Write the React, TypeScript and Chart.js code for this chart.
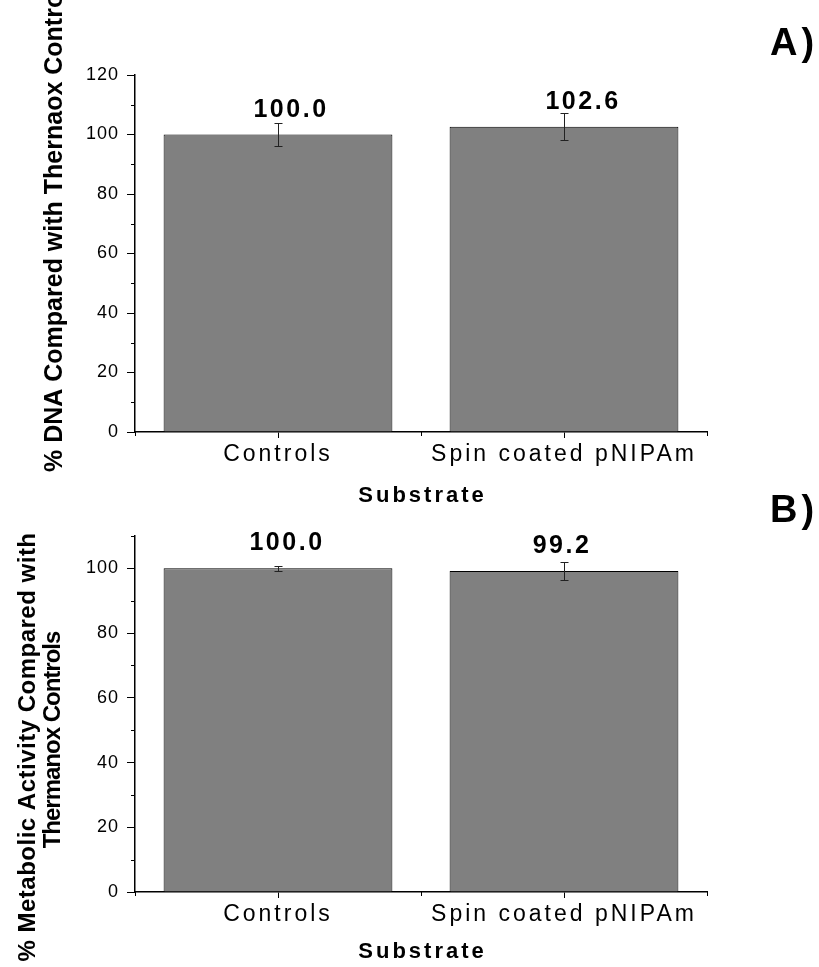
import React, { useEffect, useRef } from "react";
import { Chart, registerables } from "chart.js";

Chart.register(...registerables);

// ---------- data ----------
const categories = ["Controls", "Spin coated pNIPAm"];

const dnaValues = [100.0, 102.6];
const dnaErrors = [3.9, 4.5];
const dnaYMax = 120;

const metabolicValues = [100.0, 99.2];
const metabolicErrors = [0.7, 2.9];
const metabolicYMax = 110;

const yStep = 20;
const yMinorStep = 10;

const dnaYTitle = ["% DNA Compared with Thernaox Controls"];
const metabolicYTitle = ["% Metabolic Activity Compared with", "Thermanox Controls"];
const xTitle = "Substrate";
const panelLabels = ["A)", "B)"];

// ---------- styling ----------
const FONT = "'Liberation Sans', Arial, Helvetica, sans-serif";
const BAR_FILL = "#808080";

const annotatePlugin = {
  id: "annotate",
  beforeDraw(chart: any) {
    chart.ctx.letterSpacing = "1px";
  },
  afterDatasetsDraw(chart: any, _args: any, opts: any) {
    const ctx = chart.ctx;
    const meta = chart.getDatasetMeta(0);
    const y = chart.scales.y;
    ctx.save();
    ctx.strokeStyle = "#222";
    ctx.lineWidth = 1;
    meta.data.forEach((bar: any, i: number) => {
      const v = opts.values[i];
      const e = opts.errors[i];
      const x = Math.round(bar.x) + 0.5;
      const yt = Math.round(y.getPixelForValue(v + e)) + 0.5;
      const yb = Math.round(y.getPixelForValue(v - e)) + 0.5;
      ctx.beginPath();
      ctx.moveTo(x, yt);
      ctx.lineTo(x, yb);
      ctx.moveTo(x - 4, yt);
      ctx.lineTo(x + 4, yt);
      ctx.moveTo(x - 4, yb);
      ctx.lineTo(x + 4, yb);
      ctx.stroke();
    });
    ctx.restore();
    // spacing for x tick labels (drawn after datasets)
    ctx.letterSpacing = "3px";
  },
  afterDraw(chart: any, _args: any, opts: any) {
    const ctx = chart.ctx;
    const { left, right, bottom } = chart.chartArea;
    const y = chart.scales.y;
    const x = chart.scales.x;
    const meta = chart.getDatasetMeta(0);
    ctx.save();
    ctx.letterSpacing = "0px";
    ctx.strokeStyle = "#000";
    ctx.lineWidth = 1;
    // minor y ticks
    for (let v = yMinorStep; v <= y.max; v += yStep) {
      const py = Math.round(y.getPixelForValue(v)) + 0.5;
      ctx.beginPath();
      ctx.moveTo(left - 4, py);
      ctx.lineTo(left, py);
      ctx.stroke();
    }
    // minor x ticks at category boundaries
    const mid = (x.getPixelForValue(0) + x.getPixelForValue(1)) / 2;
    [left, mid, right].forEach((px) => {
      const xx = Math.round(px) + 0.5;
      ctx.beginPath();
      ctx.moveTo(xx, bottom);
      ctx.lineTo(xx, bottom + 4);
      ctx.stroke();
    });
    // value labels
    ctx.fillStyle = "#000";
    ctx.font = `bold 25px ${FONT}`;
    ctx.letterSpacing = "2.5px";
    ctx.textAlign = "center";
    ctx.textBaseline = "alphabetic";
    meta.data.forEach((bar: any, i: number) => {
      const v = opts.values[i];
      ctx.fillText(v.toFixed(1), bar.x + opts.labelDx[i], y.getPixelForValue(v) - 18);
    });
    // x title
    ctx.font = `bold 22px ${FONT}`;
    ctx.letterSpacing = "3px";
    ctx.fillText(xTitle, (left + right) / 2 + 1.5, opts.xTitleY);
    // panel label
    ctx.font = `bold 38px ${FONT}`;
    ctx.letterSpacing = "4px";
    ctx.textAlign = "left";
    ctx.fillText(opts.panel, 770, opts.panelY);
    // y title (rotated, baseline on the right side)
    ctx.textBaseline = "alphabetic";
    opts.yTitle.forEach((line: string, i: number) => {
      const t = opts.yTitlePos[i];
      ctx.save();
      ctx.font = `bold ${t.size}px ${FONT}`;
      ctx.letterSpacing = `${t.spacing}px`;
      ctx.translate(t.x, t.y);
      ctx.rotate(-Math.PI / 2);
      ctx.textAlign = t.align;
      ctx.fillText(line, 0, 0);
      ctx.restore();
    });
    ctx.restore();
    ctx.letterSpacing = "0px";
  },
};

function makeConfig(values: number[], errors: number[], yMax: number, pad: any, xHeight: number, annotate: any) {
  return {
    type: "bar" as const,
    data: {
      labels: categories,
      datasets: [
        {
          data: values,
          backgroundColor: BAR_FILL,
          borderColor: "#000",
          borderWidth: 1,
          barPercentage: 0.8,
          categoryPercentage: 1.0,
        },
      ],
    },
    options: {
      responsive: false,
      animation: false as const,
      events: [],
      layout: { padding: pad },
      plugins: {
        legend: { display: false },
        tooltip: { enabled: false },
        annotate: { values, errors, ...annotate },
      },
      scales: {
        x: {
          type: "category" as const,
          offset: true,
          grid: {
            offset: false,
            drawOnChartArea: false,
            drawTicks: true,
            tickLength: 6,
            color: "#000",
            lineWidth: 1,
          },
          border: { display: true, color: "#000", width: 1.5 },
          ticks: {
            color: "#000",
            padding: 3,
            z: 1,
            font: { family: FONT, size: 23 },
            maxRotation: 0,
            autoSkip: false,
          },
          afterFit: (s: any) => {
            s.height = xHeight;
          },
        },
        y: {
          min: 0,
          max: yMax,
          grid: {
            drawOnChartArea: false,
            drawTicks: true,
            tickLength: 8,
            color: "#000",
            lineWidth: 1,
          },
          border: { display: true, color: "#000", width: 1.5 },
          ticks: {
            stepSize: yStep,
            includeBounds: false,
            color: "#000",
            padding: 8,
            font: { family: FONT, size: 18 },
          },
          afterFit: (s: any) => {
            s.width = 135;
          },
        },
      },
    },
    plugins: [annotatePlugin],
  };
}

export default function App() {
  const ref1 = useRef<HTMLCanvasElement>(null);
  const ref2 = useRef<HTMLCanvasElement>(null);

  useEffect(() => {
    const c1 = new Chart(
      ref1.current as HTMLCanvasElement,
      makeConfig(dnaValues, dnaErrors, dnaYMax, { top: 75, right: 112, bottom: 457, left: 0 }, 78, {
        labelDx: [13, 19],
        xTitleY: 502,
        panel: panelLabels[0],
        panelY: 55,
        yTitle: dnaYTitle,
        yTitlePos: [{ x: 62, y: 472, align: "left", size: 25, spacing: 0 }],
      }) as any
    );
    const c2 = new Chart(
      ref2.current as HTMLCanvasElement,
      makeConfig(
        metabolicValues,
        metabolicErrors,
        metabolicYMax,
        { top: 536, right: 112, bottom: 0, left: 0 },
        75,
        {
          labelDx: [9, -2],
          xTitleY: 958,
          panel: panelLabels[1],
          panelY: 522,
          yTitle: metabolicYTitle,
          yTitlePos: [
            { x: 35, y: 747, align: "center", size: 24, spacing: 0.5 },
            { x: 60, y: 740, align: "center", size: 24, spacing: -1 },
          ],
        }
      ) as any
    );
    return () => {
      c1.destroy();
      c2.destroy();
    };
  }, []);

  return (
    <div
      style={{
        position: "absolute",
        left: 0,
        top: 0,
        width: 819,
        height: 967,
        background: "#fff",
        overflow: "hidden",
      }}
    >
      <canvas ref={ref1} width={819} height={967} style={{ position: "absolute", left: 0, top: 0 }} />
      <canvas ref={ref2} width={819} height={967} style={{ position: "absolute", left: 0, top: 0 }} />
    </div>
  );
}
